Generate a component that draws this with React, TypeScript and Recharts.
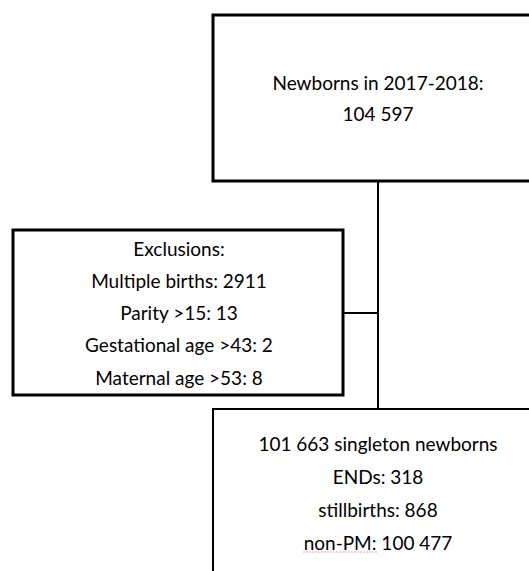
import { ScatterChart, Scatter, XAxis, YAxis, ReferenceArea, ReferenceLine } from 'recharts';

const W = 529;
const H = 571;

// box texts
const topLines = ['Newborns in 2017-2018:', '104 597'];
const exclusionLines = [
    'Exclusions:',
    'Multiple births: 2911',
    'Parity >15: 13',
    'Gestational age >43: 2',
    'Maternal age >53: 8',
];
const cohortLines = ['101 663 singleton newborns', 'ENDs: 318', 'stillbirths: 868', 'non-PM: 100 477'];

// layout of the boxes (page pixels)
const boxes = [
    { id: 'top', x1: 213, y1: 15, x2: 534, y2: 181, cx: 378, firstY: 82, gap: 31, lines: topLines, sw: 3 },
    { id: 'excl', x1: 13, y1: 230, x2: 343, y2: 395, cx: 179, firstY: 248, gap: 32.3, lines: exclusionLines, sw: 3 },
    { id: 'cohort', x1: 213, y1: 409, x2: 534, y2: 590, cx: 378, firstY: 443, gap: 33, lines: cohortLines, sw: 2 },
];

const textPoints = boxes.flatMap((b) =>
    b.lines.map((label, i) => ({ x: b.cx, y: b.firstY + i * b.gap, label })),
);

const FONT = 'Lato, "Open Sans", sans-serif';

function LabelShape(props: any) {
    const { cx, cy, payload } = props;
    const isNonPM = payload.label.startsWith('non-PM');
    return (
        <g>
            <text
                x={cx}
                y={cy}
                textAnchor="middle"
                dominantBaseline="central"
                fontFamily={FONT}
                fontSize={19}
                fill="#000"
            >
                {payload.label}
            </text>
            {isNonPM && (
                // spell-check squiggle under "non-PM"
                <line x1={cx - 75} x2={cx} y1={cy + 10} y2={cy + 10} stroke="#f4a0a0" strokeWidth={1} strokeDasharray="2 1" />
            )}
        </g>
    );
}

export default function App() {
    return (
        <div style={{ position: 'absolute', left: 0, top: 0, background: '#fff' }}>
            <ScatterChart width={W} height={H} margin={{ top: 0, right: 0, bottom: 0, left: 0 }}>
                <XAxis type="number" dataKey="x" domain={[0, W]} hide />
                <YAxis type="number" dataKey="y" domain={[0, H]} reversed hide />
                {boxes.map((b) => (
                    <ReferenceArea
                        key={b.id}
                        x1={b.x1}
                        x2={b.x2}
                        y1={b.y1}
                        y2={b.y2}
                        fill="#fff"
                        fillOpacity={1}
                        stroke="#000"
                        strokeWidth={b.sw}
                        ifOverflow="visible"
                    />
                ))}
                <ReferenceLine segment={[{ x: 378, y: 181 }, { x: 378, y: 409 }]} stroke="#000" strokeWidth={2} ifOverflow="visible" />
                <ReferenceLine segment={[{ x: 343, y: 313 }, { x: 378, y: 313 }]} stroke="#000" strokeWidth={2} ifOverflow="visible" />
                <Scatter data={textPoints} shape={LabelShape} isAnimationActive={false} />
            </ScatterChart>
        </div>
    );
}
